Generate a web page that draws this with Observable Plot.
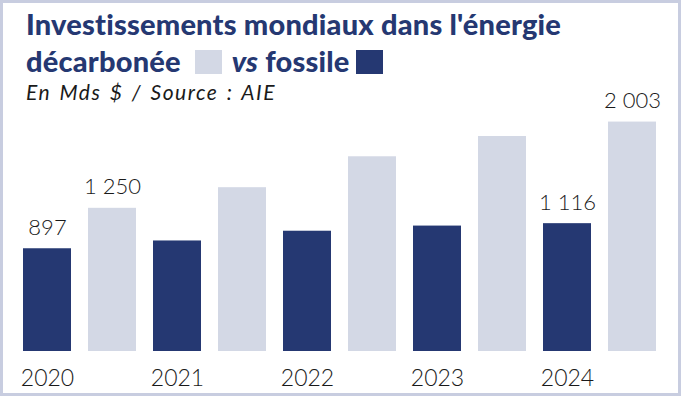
<!DOCTYPE html>
<html><head><meta charset="utf-8">
<script src="https://cdn.jsdelivr.net/npm/d3@7"></script>
<script src="https://cdn.jsdelivr.net/npm/@observablehq/plot@0.6"></script>
<style>
body{margin:0;background:#fff}
#wrap{position:relative;width:681px;height:396px;overflow:hidden;background:#fff}
#frame{position:absolute;left:0;top:0;width:681px;height:396px;box-sizing:border-box;border:3px solid #c8cde0;pointer-events:none}
#title{position:absolute;left:26px;top:5px;font-family:Lato,sans-serif;font-weight:900;font-size:29px;letter-spacing:0.2px;line-height:37px;color:#253872;white-space:nowrap}
#title i{font-style:italic}
.sq{display:inline-block;width:27px;height:24px;vertical-align:-2px}
#sqc{margin:0 10px 0 14px}
#sqf{margin:0 0 0 6px}
#sub{position:absolute;left:26px;top:80px;font-family:Lato,sans-serif;font-style:italic;font-size:21px;letter-spacing:1.5px;word-spacing:2px;line-height:24px;color:#1a1a1a;white-space:nowrap}
#chart{position:absolute;left:0;top:0}
</style></head>
<body>
<div id="wrap">
  <div id="chart"></div>
  <div id="title">Investissements mondiaux dans l'énergie<br>décarbonée<span class="sq" id="sqc"></span><i>vs</i> fossile<span class="sq" id="sqf"></span></div>
  <div id="sub">En Mds $ / Source : AIE</div>
  <div id="frame"></div>
</div>
<script>
const years = ["2020", "2021", "2022", "2023", "2024"];
const fossil = [897, 965, 1050, 1095, 1116];
const clean = [1250, 1430, 1700, 1877, 2003];
const series = ["fossile", "décarbonée"];
const colors = ["#253872", "#d3d8e5"];
const labelYears = ["2020", "2024"];

document.getElementById("sqf").style.background = colors[0];
document.getElementById("sqc").style.background = colors[1];

const data = years.flatMap((y, i) => [
  {year: y, serie: series[0], key: y + "-f", value: fossil[i]},
  {year: y, serie: series[1], key: y + "-c", value: clean[i]}
]);
const fmt = v => d3.format(",")(v).replace(/,/g, " ");

const chart = Plot.plot({
  width: 681, height: 396,
  marginTop: 99, marginBottom: 45, marginLeft: 21, marginRight: 23,
  x: {domain: data.map(d => d.key), paddingInner: 0.255, paddingOuter: 0, axis: null, label: null},
  y: {domain: [0, 2200], axis: null},
  color: {domain: series, range: colors},
  style: {fontFamily: "Lato, sans-serif", background: "transparent"},
  marks: [
    Plot.barY(data, {x: "key", y: "value", fill: "serie"}),
    Plot.text(data.filter(d => labelYears.includes(d.year)), {
      x: "key", y: "value", text: d => fmt(d.value),
      dy: -14, lineAnchor: "bottom", fontSize: 22, fontWeight: 300, fill: "#1a1a1a"
    }),
    Plot.axisX(data.filter(d => d.serie === series[0]).map(d => d.key), {
      tickFormat: d => d.slice(0, 4), tickSize: 0, tickPadding: 18, label: null,
      fontSize: 23, fontWeight: 300, fill: "#1a1a1a"
    })
  ]
});
document.getElementById("chart").appendChild(chart);
</script>
</body></html>
